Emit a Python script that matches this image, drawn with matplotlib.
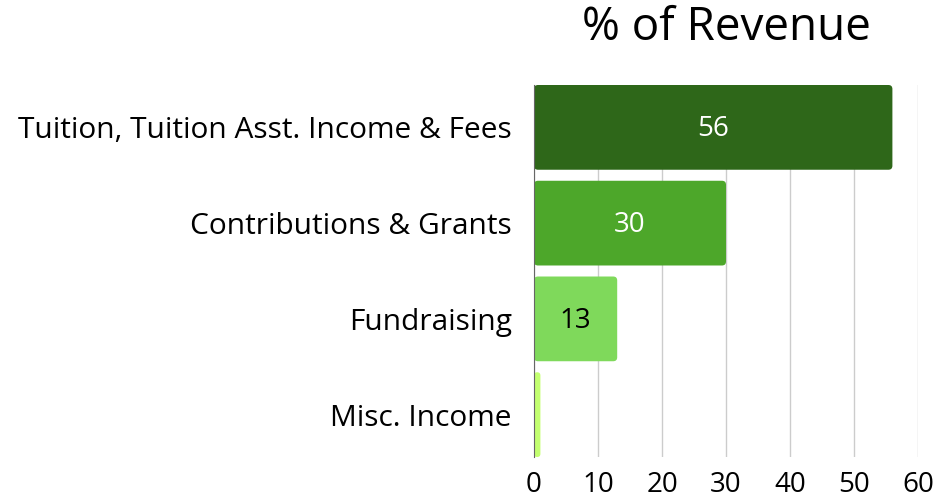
import matplotlib.pyplot as plt
from matplotlib.patches import FancyBboxPatch

categories = ["Tuition, Tuition Asst. Income & Fees", "Contributions & Grants",
              "Fundraising", "Misc. Income"]
values = [56, 30, 13, 1]
colors = ["#2e6719", "#4da72a", "#7fd95b", "#c3ff70"]
label_colors = ["white", "white", "black", None]

plt.rcParams['font.family'] = ['Open Sans', 'DejaVu Sans']

fig = plt.figure(figsize=(9.39, 5), dpi=100)
ax = fig.add_axes([534 / 939, 1 - 457 / 500, 384 / 939, 372 / 500])

ypos = list(range(len(categories)))
bars = ax.barh(ypos, values, height=0.885, color=colors, zorder=3)

# swap plain bars for rounded ones (4 px corners)
px_x = 384 / 60
px_y = 372 / (len(categories) - 1 + 0.885)
for bar in bars:
    x, y, w, h = bar.get_x(), bar.get_y(), bar.get_width(), bar.get_height()
    r = min(4 / px_x, w / 2)
    patch = FancyBboxPatch((x, y), w, h,
                           boxstyle="round,pad=0,rounding_size=%f" % r,
                           mutation_aspect=px_x / px_y,
                           facecolor=bar.get_facecolor(), edgecolor='none', zorder=3)
    ax.add_patch(patch)
    bar.set_visible(False)

for bar, val, lc in zip(bars, values, label_colors):
    if lc is None:
        continue
    ax.text(val / 2, bar.get_y() + bar.get_height() / 2 + 0.02, str(val),
            ha='center', va='center', color=lc, fontsize=20, zorder=4)

ax.set_xlim(0, 60)
ax.set_ylim(len(categories) - 1 + 0.4425, -0.4425)
ax.set_xticks(range(0, 61, 10))
ax.set_yticks(ypos)
ax.set_yticklabels(categories, fontsize=21.5)
ax.tick_params(axis='x', labelsize=20, length=0, pad=10)
ax.tick_params(axis='y', length=0, pad=16)
ax.grid(axis='x', color='#cccccc', linewidth=1, zorder=0)
for s in ['top', 'right', 'bottom']:
    ax.spines[s].set_visible(False)
ax.spines['left'].set_color('#666666')
ax.spines['left'].set_zorder(5)

fig.text(726 / 939, 1 - 28 / 500, "% of Revenue", ha='center', va='center', fontsize=33)

fig.savefig("out.png", dpi=100)
